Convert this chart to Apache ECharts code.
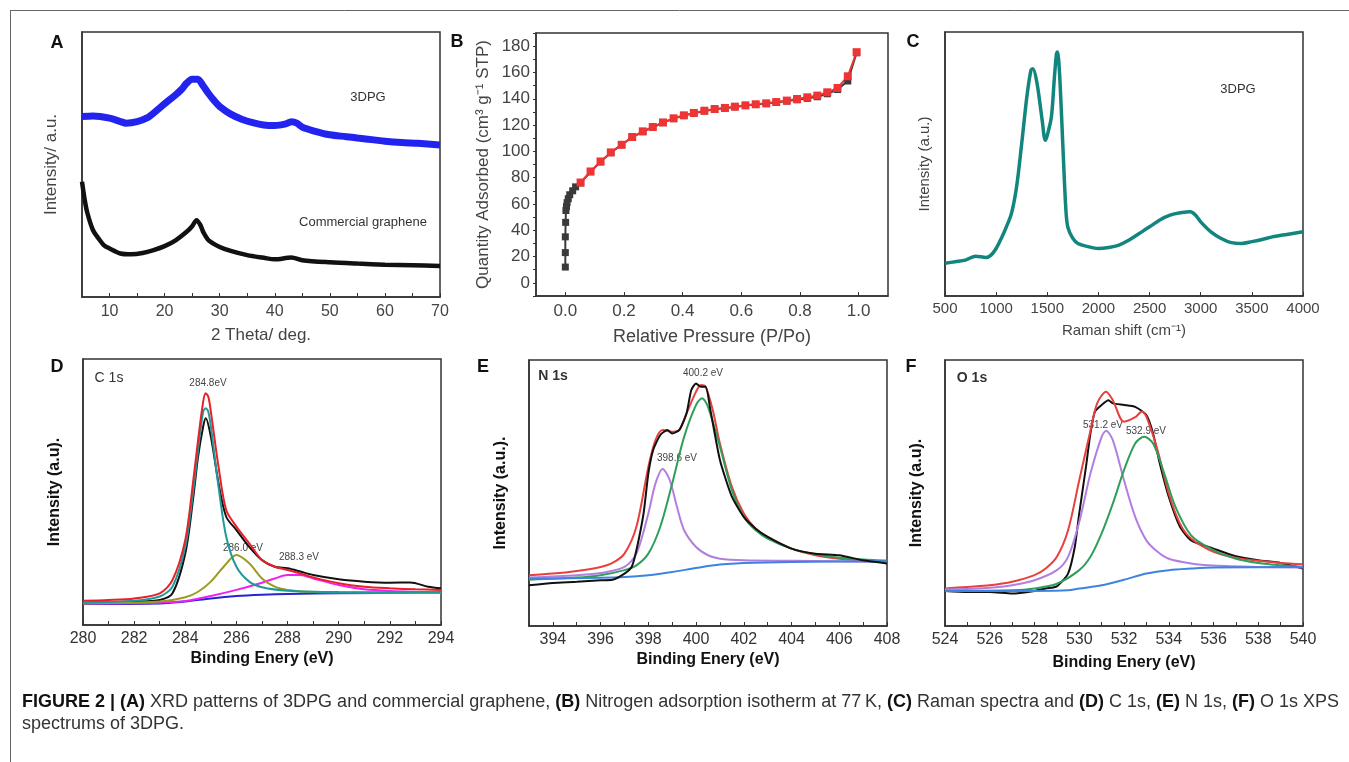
<!DOCTYPE html>
<html>
<head>
<meta charset="utf-8">
<script src="https://cdn.jsdelivr.net/npm/echarts@6/dist/echarts.min.js"></script>
<style>
  html, body { margin: 0; padding: 0; background: #fff; }
  #chart { width: 1349px; height: 762px; }
</style>
</head>
<body>
<div id="chart"></div>
<script>
// ---- data ----
// (A) XRD, 2 theta vs intensity (a.u.)
const xrd3dpg = [[5,68.1],[7,68.3],[10,67.5],[12,66.2],[13,65.6],[15,66.2],[17,67.8],[18,69.4],[20,72.9],[22,76.3],[23,78.2],[24,80.7],[25,82.2],[26,82.2],[27,79.7],[28,76.7],[29,74.1],[30,71.9],[32,69.0],[34,67.1],[36,65.8],[38,64.9],[40,64.7],[42,65.3],[43,66.1],[44,65.6],[45,64.1],[47,62.7],[50,61.2],[53,60.5],[55,60.0],[58,59.3],[60,58.8],[63,58.3],[66,58.0],[70,57.4]];
const xrdCommercial = [[5,43.5],[5.5,36.6],[6,31.5],[7,25.2],[8,22.1],[9,19.5],[10,18.3],[12,16.4],[14,16.1],[16,16.6],[18,17.7],[20,19.2],[22,21.4],[24,24.6],[25,26.7],[25.8,29.0],[26.5,27.1],[27,24.6],[28,21.4],[30,18.9],[32,17.4],[35,15.8],[38,14.8],[40,14.2],[43,14.9],[45,13.9],[50,13.1],[55,12.6],[60,12.2],[65,12.0],[70,11.7]];
const xrdTicks = [10,20,30,40,50,60,70];

// (B) N2 isotherm, P/Po vs quantity adsorbed
const isoAdsorption = [[0,12],[0,23],[0,35],[0.001,46],[0.002,55],[0.004,58],[0.006,61],[0.01,64],[0.015,67],[0.025,70],[0.035,73],[0.052,76],[0.086,84.5],[0.12,92],[0.155,99],[0.192,105],[0.228,110.7],[0.264,115],[0.298,118.3],[0.333,121.8],[0.369,124.9],[0.404,127.2],[0.438,129],[0.474,130.7],[0.509,132],[0.544,132.8],[0.578,133.8],[0.614,134.8],[0.649,135.6],[0.685,136.3],[0.719,137.2],[0.755,138.2],[0.79,139.2],[0.825,140.3],[0.859,141.5],[0.893,143.8],[0.928,147],[0.963,153.5],[0.993,175]];
const isoDesorption = [[0.052,76.3],[0.086,84.7],[0.12,92.3],[0.155,99.2],[0.192,105],[0.228,110.9],[0.264,115.2],[0.298,118.5],[0.333,122],[0.369,125.1],[0.404,127.4],[0.438,129.2],[0.474,130.9],[0.509,132.2],[0.544,133],[0.578,134],[0.614,135],[0.649,135.8],[0.685,136.5],[0.719,137.5],[0.755,138.6],[0.79,139.8],[0.825,141.1],[0.859,142.4],[0.893,144.9],[0.928,148.2],[0.963,157.1],[0.993,175.4]];
const isoXTicks = [0, 0.2, 0.4, 0.6, 0.8, 1.0];
const isoYTicks = [0,20,40,60,80,100,120,140,160,180];

// (C) Raman
const raman = [[500,12.4],[600,13.0],[700,13.6],[800,15.1],[900,14.6],[950,15.5],[1000,18.0],[1050,21.8],[1100,26.2],[1150,31.3],[1200,41.4],[1250,57.8],[1300,75.4],[1340,85.5],[1360,86.1],[1400,80.5],[1450,66.6],[1480,59.0],[1500,60.9],[1540,67.8],[1570,83.0],[1590,91.8],[1600,92.4],[1620,84.2],[1650,59.0],[1680,33.8],[1700,26.2],[1750,21.8],[1800,19.9],[1900,18.7],[2000,18.0],[2100,18.4],[2200,19.3],[2300,21.2],[2400,23.7],[2500,26.2],[2600,28.8],[2700,30.6],[2800,31.5],[2900,31.9],[2950,30.6],[3000,28.1],[3100,24.3],[3200,21.8],[3300,20.2],[3400,19.9],[3500,20.6],[3600,21.4],[3700,22.4],[3800,23.1],[3900,23.7],[4000,24.3]];
const ramanTicks = [500,1000,1500,2000,2500,3000,3500,4000];

// (D) C 1s
const c1sRaw = [[280,8.4],[282,8.8],[283,9.4],[283.5,11.9],[284,26.9],[284.3,47.0],[284.5,63.3],[284.7,74.6],[284.8,77.7],[285,70.8],[285.3,53.3],[285.6,40.7],[286,35.7],[286.5,29.4],[287,24.4],[287.5,21.9],[288,21.3],[288.5,20.1],[289,18.8],[290,17.2],[291,16.3],[292,15.9],[292.8,16.0],[293.5,14.4],[294,13.8]];
const c1sFit = [[280,9.1],[281,9.4],[282,10.0],[283,11.9],[283.5,16.9],[284,32.0],[284.3,53.3],[284.5,69.5],[284.7,84.0],[284.8,87.1],[284.9,85.8],[285,80.2],[285.3,59.5],[285.6,43.2],[286,37.0],[286.5,30.7],[287,24.4],[287.5,21.9],[288,20.7],[288.5,19.4],[289,17.9],[290,15.7],[291,14.4],[292,13.8],[293,13.4],[294,13.2]];
const c1sPeak2848 = [[280,8.4],[282,9.1],[283,10.7],[283.5,14.4],[284,29.4],[284.3,49.5],[284.5,65.8],[284.7,80.2],[284.8,81.5],[284.9,80.2],[285,74.6],[285.3,52.0],[285.6,33.2],[286,21.9],[286.5,16.3],[287,14.2],[288,12.9],[290,12.4],[294,12.3]];
const c1sPeak2860 = [[280,8.1],[282,8.4],[283,8.8],[284,10.4],[284.5,12.5],[285,16.3],[285.5,21.9],[286,26.3],[286.5,23.2],[287,17.5],[287.5,14.4],[288,13.2],[289,12.4],[290,12.2],[294,12.0]];
const c1sPeak2883 = [[280,8.1],[283,8.4],[284,9.0],[285,10.9],[286,13.2],[287,15.9],[287.5,17.5],[288,18.8],[288.5,18.8],[289,17.5],[290,15.0],[291,13.4],[292,12.8],[294,12.3]];
const c1sBase = [[280,7.9],[283,8.1],[284,8.8],[285,10.0],[286,10.9],[287,11.4],[288,11.7],[290,11.9],[294,12.2]];
const c1sTicks = [280,282,284,286,288,290,292,294];

// (E) N 1s
const n1sRaw = [[393,15.3],[394,16.2],[395,16.6],[396,17.2],[396.5,17.4],[397,19.7],[397.3,22.2],[397.5,28.5],[397.8,42.3],[398,57.3],[398.2,66.1],[398.5,71.8],[398.8,73.7],[399,72.4],[399.3,73.7],[399.6,79.9],[399.8,88.7],[400,91.2],[400.2,89.9],[400.4,89.9],[400.6,81.2],[401,62.4],[401.5,48.6],[402,41.0],[402.5,36.6],[403,33.5],[404,29.1],[405,27.2],[406,26.6],[407,24.7],[408,23.5]];
const n1sFit = [[393,19.1],[394,19.7],[395,20.7],[396,22.2],[396.5,23.7],[397,27.2],[397.5,37.3],[398,59.8],[398.3,69.9],[398.6,73.7],[399,73.0],[399.3,73.7],[399.6,79.9],[400,88.1],[400.2,90.6],[400.4,89.9],[400.7,81.2],[401,68.6],[401.5,52.3],[402,42.3],[402.5,36.6],[403,33.5],[404,29.1],[405,26.6],[406,25.3],[407,24.7],[408,24.5]];
const n1sPeak3986 = [[393,18.2],[395,19.1],[396,19.9],[397,22.2],[397.5,27.2],[398,42.3],[398.3,53.6],[398.6,59.0],[398.9,54.8],[399.2,44.8],[399.5,36.0],[400,29.7],[400.5,26.6],[401,25.3],[402,24.7],[404,24.5],[408,24.1]];
const n1sPeak4002 = [[393,17.4],[395,18.2],[396,19.1],[397,21.0],[397.5,22.8],[398,27.2],[398.5,37.3],[399,53.6],[399.5,71.1],[400,83.1],[400.25,85.6],[400.5,82.4],[401,67.4],[401.5,51.1],[402,41.0],[402.5,36.0],[403,32.9],[404,29.1],[405,27.0],[406,25.7],[407,25.0],[408,24.5]];
const n1sBase = [[393,17.8],[396,18.1],[397,18.4],[398,19.1],[399,20.3],[400,21.8],[401,23.1],[402,23.7],[404,24.1],[408,24.3]];
const n1sTicks = [394,396,398,400,402,404,406,408];

// (F) O 1s
const o1sRaw = [[524,13.2],[525,12.8],[526,12.8],[527,12.2],[528,13.2],[528.5,14.1],[529,14.9],[529.5,19.7],[529.8,29.7],[530,42.3],[530.3,59.8],[530.5,72.4],[530.7,80.6],[531,83.1],[531.3,84.9],[531.5,83.7],[532,83.1],[532.5,82.4],[533,79.3],[533.3,72.4],[533.6,61.1],[534,48.6],[534.5,37.3],[535,32.2],[536,29.1],[537,26.2],[538,24.7],[539,23.7],[540,21.6]];
const o1sFit = [[524,14.1],[525,14.7],[526,15.3],[527,16.6],[528,19.1],[528.5,21.6],[529,26.0],[529.5,36.0],[530,54.8],[530.5,73.4],[530.8,83.7],[531.2,88.1],[531.5,84.9],[532,76.8],[532.5,78.5],[532.8,80.6],[533,78.7],[533.5,66.1],[534,49.8],[534.5,38.5],[535,32.9],[536,27.9],[537,25.7],[538,24.5],[539,23.7],[540,23.2]];
const o1sPeak5312 = [[524,13.7],[526,14.4],[527,15.3],[528,17.2],[529,21.0],[529.5,26.0],[530,39.1],[530.5,57.3],[531,71.1],[531.2,73.4],[531.5,69.9],[532,54.8],[532.5,41.0],[533,32.2],[533.5,27.9],[534,25.3],[535,23.5],[536,22.7],[538,22.2],[540,22.0]];
const o1sPeak5329 = [[524,13.2],[527,13.4],[528,14.1],[529,15.9],[530,21.0],[530.5,26.0],[531,34.8],[531.5,46.0],[532,58.6],[532.5,68.6],[532.9,71.1],[533.3,68.6],[533.8,57.3],[534.3,44.8],[535,34.1],[536,28.5],[537,25.3],[538,23.7],[539,22.8],[540,22.2]];
const o1sBase = [[524,13.2],[528,13.2],[529.5,13.4],[530,14.1],[531,15.3],[532,17.4],[533,19.7],[534,21.0],[535,21.6],[536,22.0],[540,22.2]];
const o1sTicks = [524,526,528,530,532,534,536,538,540];

// ---- layout ----
const FONT = '"Liberation Sans", Arial, Helvetica, sans-serif';
const chart = echarts.init(document.getElementById('chart'));

const boxes = [
  { left: 82, top: 32, width: 358, height: 265 },
  { left: 536, top: 33, width: 352, height: 263 },
  { left: 945, top: 32, width: 358, height: 264 },
  { left: 83, top: 359, width: 358, height: 266 },
  { left: 529, top: 360, width: 358, height: 266 },
  { left: 945, top: 360, width: 358, height: 266 }
];

function xAx(i, min, max, labels, ticks, name, o) {
  return {
    type: 'value', gridIndex: i, min: min, max: max,
    name: name, nameLocation: 'middle', nameGap: o.nameGap,
    nameTextStyle: { fontFamily: FONT, fontSize: o.nameSize, color: o.nameColor, fontWeight: o.bold ? 'bold' : 'normal' },
    axisLine: { show: true, onZero: false, lineStyle: { color: '#333', width: 1.5 } },
    axisTick: { show: true, inside: true, length: 4, customValues: ticks, lineStyle: { color: '#333' } },
    axisLabel: { customValues: labels, fontFamily: FONT, fontSize: o.labelSize, color: o.labelColor, margin: o.margin,
      formatter: o.fmt || (v => String(v)) },
    splitLine: { show: false }
  };
}
function yAx(i, min, max, name, o) {
  return {
    type: 'value', gridIndex: i, min: min, max: max,
    name: name, nameLocation: 'middle', nameGap: o.nameGap,
    nameTextStyle: { fontFamily: FONT, fontSize: o.nameSize, color: o.nameColor, fontWeight: o.bold ? 'bold' : 'normal' },
    axisLine: { show: true, onZero: false, lineStyle: { color: '#333', width: 1.5 } },
    axisTick: o.ticks ? { show: true, inside: false, length: 3, customValues: o.ticks, lineStyle: { color: '#333' } } : { show: false },
    axisLabel: o.labels ? { customValues: o.labels, fontFamily: FONT, fontSize: o.labelSize, color: o.labelColor, margin: o.margin } : { show: false },
    splitLine: { show: false }
  };
}
function line(i, data, color, width, smooth) {
  return {
    type: 'line', xAxisIndex: i, yAxisIndex: i, data: data, showSymbol: false,
    smooth: smooth, lineStyle: { color: color, width: width }, itemStyle: { color: color },
    animation: false, silent: true
  };
}
function txt(x, y, s, size, opt) {
  opt = opt || {};
  return {
    type: 'text', x: x, y: y, silent: true,
    style: { text: s, fill: opt.color || '#333', font: (opt.bold ? 'bold ' : '') + size + 'px ' + FONT,
      align: 'center', verticalAlign: 'middle' }
  };
}

const topStyle = { labelSize: 16, labelColor: '#444', nameSize: 17, nameColor: '#444', margin: 7 };
const xpsStyle = { labelSize: 16, labelColor: '#333', nameSize: 16, nameColor: '#111', bold: true, margin: 6 };

const range = (a, b, s) => { const r = []; for (let v = a; v <= b + 1e-9; v += s) r.push(+v.toFixed(3)); return r; };

const RED = '#e8403c', PURPLE = '#b27ee0', GREEN = '#2f9e5a', BLUE = '#3d84e0';

chart.setOption({
  animation: false,
  grid: boxes.map(b => Object.assign({ show: true, borderColor: '#333', borderWidth: 1.5, containLabel: false }, b)),
  xAxis: [
    xAx(0, 5, 70, xrdTicks, range(10, 70, 5), '2 Theta/ deg.', Object.assign({ nameGap: 30 }, topStyle)),
    xAx(1, -0.1, 1.1, isoXTicks, isoXTicks, 'Relative Pressure (P/Po)', Object.assign({}, topStyle, { nameGap: 32, nameSize: 18, labelSize: 17, fmt: v => v.toFixed(1) })),
    xAx(2, 500, 4000, ramanTicks, ramanTicks, 'Raman shift (cm\u207B\u00B9)', Object.assign({}, topStyle, { nameGap: 27, nameSize: 15, labelSize: 15, margin: 5 })),
    xAx(3, 280, 294, c1sTicks, range(280, 294, 1), 'Binding Enery (eV)', Object.assign({ nameGap: 26 }, xpsStyle)),
    xAx(4, 393, 408, n1sTicks, range(393, 408, 1), 'Binding Enery (eV)', Object.assign({ nameGap: 26 }, xpsStyle)),
    xAx(5, 524, 540, o1sTicks, range(524, 540, 1), 'Binding Enery (eV)', Object.assign({ nameGap: 29 }, xpsStyle))
  ],
  yAxis: [
    yAx(0, 0, 100, 'Intensity/ a.u.', Object.assign({ nameGap: 22 }, topStyle)),
    yAx(1, -10, 190, 'Quantity Adsorbed (cm\u00B3 g\u207B\u00B9 STP)', Object.assign({}, topStyle, { nameGap: 44, labels: isoYTicks, ticks: range(-10, 190, 10), labelSize: 17, margin: 6 })),
    yAx(2, 0, 100, 'Intensity (a.u.)', Object.assign({}, topStyle, { nameGap: 13, nameSize: 15 })),
    yAx(3, 0, 100, 'Intensity (a.u).', Object.assign({ nameGap: 20 }, xpsStyle)),
    yAx(4, 0, 100, 'Intensity (a.u.).', Object.assign({ nameGap: 20 }, xpsStyle)),
    yAx(5, 0, 100, 'Intensity (a.u).', Object.assign({ nameGap: 20 }, xpsStyle))
  ],
  series: [
    line(0, xrd3dpg, '#2323f0', 7, 0.3),
    line(0, xrdCommercial, '#111', 4.5, 0.3),

    Object.assign(line(1, isoAdsorption, '#3a3a3a', 2, false), { showSymbol: true, symbol: 'rect', symbolSize: 7 }),
    Object.assign(line(1, isoDesorption, '#ee3535', 2, false), { showSymbol: true, symbol: 'rect', symbolSize: 8 }),

    line(2, raman, '#13857f', 3.5, 0.3),

    line(3, c1sRaw, '#111', 2, 0.3),
    line(3, c1sBase, '#2424d6', 2, 0.3),
    line(3, c1sPeak2883, '#ee22ee', 2, 0.3),
    line(3, c1sPeak2860, '#9b9b22', 2, 0.3),
    line(3, c1sPeak2848, '#1f9a9a', 2, 0.3),
    line(3, c1sFit, '#e8202a', 2, 0.3),

    line(4, n1sFit, RED, 2, 0.3),
    line(4, n1sPeak3986, PURPLE, 2, 0.3),
    line(4, n1sPeak4002, GREEN, 2, 0.3),
    line(4, n1sBase, BLUE, 2, 0.3),
    line(4, n1sRaw, '#111', 2, 0.2),

    line(5, o1sRaw, '#111', 2, 0.2),
    line(5, o1sFit, RED, 2, 0.3),
    line(5, o1sPeak5312, PURPLE, 2, 0.3),
    line(5, o1sPeak5329, GREEN, 2, 0.3),
    line(5, o1sBase, BLUE, 2, 0.3)
  ],
  graphic: [
    { type: 'line', silent: true, shape: { x1: 10, y1: 10.5, x2: 1349, y2: 10.5 }, style: { stroke: '#666', lineWidth: 1 } },
    { type: 'line', silent: true, shape: { x1: 10.5, y1: 10, x2: 10.5, y2: 762 }, style: { stroke: '#666', lineWidth: 1 } },

    txt(57, 43, 'A', 18, { bold: true, color: '#111' }),
    txt(457, 42, 'B', 18, { bold: true, color: '#111' }),
    txt(913, 42, 'C', 18, { bold: true, color: '#111' }),
    txt(57, 367, 'D', 18, { bold: true, color: '#111' }),
    txt(483, 367, 'E', 18, { bold: true, color: '#111' }),
    txt(911, 367, 'F', 18, { bold: true, color: '#111' }),

    txt(368, 97, '3DPG', 13),
    txt(363, 222, 'Commercial graphene', 13),
    txt(1238, 89, '3DPG', 13),

    txt(109, 378, 'C 1s', 14),
    txt(208, 383, '284.8eV', 10, { color: '#444' }),
    txt(243, 548, '286.0 eV', 10, { color: '#444' }),
    txt(299, 557, '288.3 eV', 10, { color: '#444' }),

    txt(553, 376, 'N 1s', 14, { bold: true }),
    txt(703, 373, '400.2 eV', 10, { color: '#444' }),
    txt(677, 458, '398.6 eV', 10, { color: '#444' }),

    txt(972, 378, 'O 1s', 14, { bold: true }),
    txt(1103, 425, '531.2 eV', 10, { color: '#444' }),
    txt(1146, 431, '532.9 eV', 10, { color: '#444' }),

    {
      type: 'text', x: 22, y: 702, silent: true,
      style: {
        text: '{b|FIGURE 2 | (A)} XRD patterns of 3DPG and commercial graphene, {b|(B)} Nitrogen adsorption isotherm at 77\u2009K, {b|(C)} Raman spectra and {b|(D)} C 1s, {b|(E)} N 1s, {b|(F)} O 1s XPS',
        font: '18px ' + FONT, fill: '#333', verticalAlign: 'middle',
        rich: {
          b: { fontWeight: 'bold', fontSize: 18, fontFamily: FONT, fill: '#111' }
        }
      }
    },
    { type: 'text', x: 22, y: 724, silent: true,
      style: { text: 'spectrums of 3DPG.', font: '18px ' + FONT, fill: '#333', verticalAlign: 'middle' } }
  ]
});

window.addEventListener('resize', () => chart.resize());
</script>
</body>
</html>
